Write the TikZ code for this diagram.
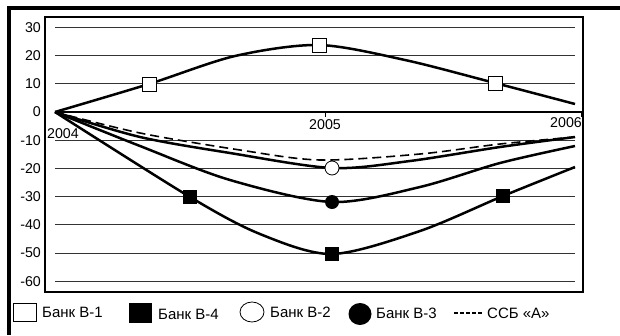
\documentclass[tikz,border=0pt]{standalone}
\usepackage{fontspec}
\setmainfont{Liberation Sans}
\usetikzlibrary{shapes.geometric}
\begin{document}
\begin{tikzpicture}[x=1pt,y=-1pt,
  gridln/.style={line width=0.8pt, black!80},
  curve/.style={line width=2.5pt, line join=round},
  dashcurve/.style={line width=1.6pt, dash pattern=on 9pt off 5pt},
  wsq/.style={rectangle, draw=black, fill=white, line width=0.8pt, minimum size=14pt, inner sep=0pt},
  bsq/.style={rectangle, fill=black, minimum size=14pt, inner sep=0pt},
  wcirc/.style={circle, draw=black, fill=white, line width=0.8pt, minimum size=14pt, inner sep=0pt},
  bcirc/.style={circle, fill=black, minimum size=14pt, inner sep=0pt},
  lab/.style={font=\fontsize{14.2}{14.2}\selectfont, inner sep=0pt},
  leg/.style={font=\fontsize{15}{15}\selectfont, inner sep=0pt, anchor=west},
]
\useasboundingbox (0,0) rectangle (620,335);
% outer frame (top and left bars)
\fill[black] (7,6) rectangle (620,10);
\fill[black] (7,6) rectangle (11,335);
% plot border
\draw[line width=1.1pt] (45,17) rectangle (583,292);
% grid lines and y labels
\foreach \v in {30,20,10,-10,-20,-30,-40,-50,-60}{
  \draw[gridln] (55,{112-2.82*\v}) -- (575,{112-2.82*\v});
}
\foreach \v in {30,20,10,0,-10,-20,-30,-40,-50,-60}{
  \node[lab, anchor=east] (y\v) at (41,{112-2.82*\v}) {\v};
}
% zero axis with ticks
\coordinate (ax0) at (55,112);
\coordinate (ax1) at (581,112);
\draw[line width=2pt] (ax0) -- (ax1);
\coordinate (t5a) at (325,112); \coordinate (t5b) at (325,117);
\coordinate (t6a) at (581,111); \coordinate (t6b) at (581,117);
\draw[line width=1pt] (t5a) -- (t5b);
\draw[line width=1pt] (t6a) -- (t6b);
\node[lab] (x2004) at (63,134) {2004};
\node[lab] (x2005) at (325,125) {2005};
\node[lab] (x2006) at (566,123) {2006};
% curves
\draw[dashcurve] plot[smooth] coordinates {(55,112) (140,133) (240,150) (320,160) (420,154) (500,144) (575,137)};
\draw[curve] plot[smooth] coordinates {(55,112) (140,137) (230,153) (332,168) (410,161) (500,147) (575,137)};
\draw[curve] plot[smooth] coordinates {(55,112) (140,146) (230,180) (332,202) (420,187) (500,163) (575,146)};
\draw[curve] plot[smooth] coordinates {(55,112) (190,197) (260,234) (332,254) (420,231) (503,196) (575,167)};
\draw[curve] plot[smooth] coordinates {(55,112) (149,84) (235,56) (319,45) (405,60) (495,83) (575,104)};
% markers
\node[wsq] (b1a) at (149,84) {};
\node[wsq] (b1b) at (319,45) {};
\node[wsq] (b1c) at (495,83) {};
\node[bsq] (b4a) at (190,197) {};
\node[bsq] (b4b) at (332,254) {};
\node[bsq] (b4c) at (503,196) {};
\node[wcirc] (b2) at (332,168) {};
\node[bcirc] (b3) at (332,202) {};
% legend
\node[rectangle, draw=black, fill=white, line width=0.8pt, minimum width=23pt, minimum height=18pt, inner sep=0pt] (lg1) at (25,312) {};
\node[leg] (lt1) at (42,312) {Банк В-1};
\node[rectangle, fill=black, minimum width=23pt, minimum height=20pt, inner sep=0pt] (lg4) at (140,313) {};
\node[leg] (lt4) at (158,314) {Банк В-4};
\node[ellipse, draw=black, fill=white, line width=0.8pt, minimum width=24pt, minimum height=20pt, inner sep=0pt] (lg2) at (252,312) {};
\node[leg] (lt2) at (270,312) {Банк В-2};
\node[ellipse, fill=black, minimum width=23pt, minimum height=22pt, inner sep=0pt] (lg3) at (360,314) {};
\node[leg] (lt3) at (376,313) {Банк В-3};
\coordinate (ld0) at (454,313);
\coordinate (ld1) at (483,313);
\draw[line width=1.8pt, dash pattern=on 4pt off 2pt] (ld0) -- (ld1);
\node[leg] (lt5) at (487,313) {ССБ «А»};
\end{tikzpicture}
\end{document}
